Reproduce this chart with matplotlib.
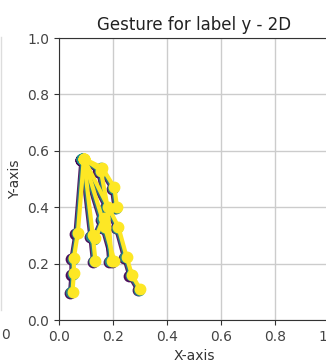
import matplotlib
matplotlib.use("Agg")
import matplotlib.pyplot as plt
from matplotlib.lines import Line2D

# Hand landmark chains (final frame), each starting at the wrist
wrist = (0.092, 0.572)
chain_x = [
    [0.07, 0.055, 0.055, 0.05],
    [0.125, 0.135],
    [0.155, 0.18, 0.195],
    [0.17, 0.205],
    [0.22, 0.25, 0.27, 0.30],
    [0.16, 0.205, 0.215, 0.165, 0.135],
]
chain_y = [
    [0.31, 0.22, 0.165, 0.10],
    [0.30, 0.21],
    [0.53, 0.40, 0.21],
    [0.33, 0.21],
    [0.33, 0.225, 0.16, 0.11],
    [0.54, 0.47, 0.40, 0.36, 0.29],
]
# Per-frame shift of the whole hand (first frame -> last frame)
frame_dx = [-0.009, -0.005, 0.0]
frame_dy = [-0.004, -0.002, 0.0]
frame_colors = ["#440154", "#21918c", "#fde725"]
frame_alpha = [0.9, 0.8, 1.0]

x_ticks = [0.0, 0.2, 0.4, 0.6, 0.8, 1.0]
y_ticks = [0.0, 0.2, 0.4, 0.6, 0.8, 1.0]

fig = plt.figure(figsize=(3.26, 3.64), dpi=100)
ax = fig.add_axes([59 / 326, 1 - 320 / 364, 270 / 326, 282 / 364])

for dx, dy, col, a in zip(frame_dx, frame_dy, frame_colors, frame_alpha):
    for cx, cy in zip(chain_x, chain_y):
        xs = [wrist[0] + dx] + [v + dx for v in cx]
        ys = [wrist[1] + dy] + [v + dy for v in cy]
        ax.plot(xs, ys, "-o", color=col, lw=3, ms=7.5, alpha=a,
                solid_capstyle="round")

ax.set_xlim(0, 1)
ax.set_ylim(0, 1)
ax.set_xticks(x_ticks)
ax.set_yticks(y_ticks)
ax.grid(True, color="#cccccc", lw=1)
ax.set_axisbelow(True)
for s in ax.spines.values():
    s.set_color("#333333")
ax.tick_params(colors="#333333", labelcolor="#444444")
ax.set_title("Gesture for label y - 2D", fontsize=12, color="#222222")
ax.set_xlabel("X-axis", color="#333333")
ax.set_ylabel("Y-axis", color="#333333")

# remnants of a neighbouring panel at the left edge
fig.text(5 / 326, 1 - 335 / 364, "0", ha="center", va="center", fontsize=10, color="#444444")
fig.add_artist(Line2D([1 / 326, 1 / 326], [1 - 37 / 364, 1 - 310 / 364],
                      transform=fig.transFigure, color="#dddddd", lw=1))

fig.savefig("out.png", dpi=100)
